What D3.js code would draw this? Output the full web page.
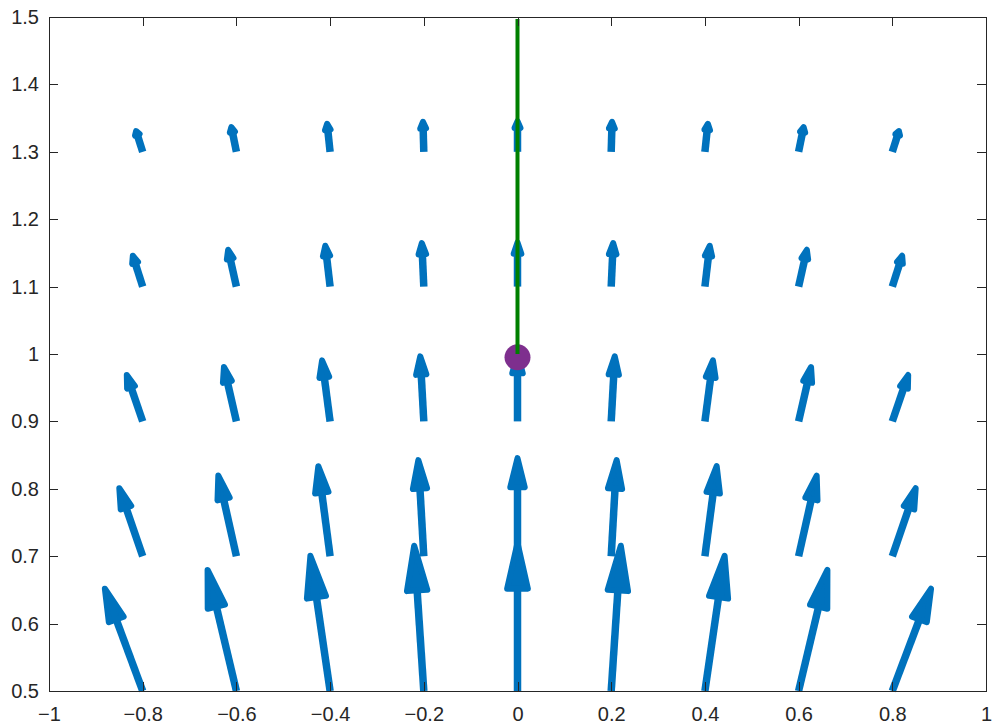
<!DOCTYPE html>
<html>
<head>
<meta charset="utf-8">
<script src="https://cdn.jsdelivr.net/npm/d3@7"></script>
<style>
  body { margin: 0; background: #fff; }
  svg { display: block; }
</style>
</head>
<body>
<script>
// grid of arrow bases
const gridX = [-0.8, -0.6, -0.4, -0.2, 0, 0.2, 0.4, 0.6, 0.8]
const gridY = [0.5, 0.7, 0.9, 1.1, 1.3]

// arrow components, one row per gridY value
const uRows = [
  [-0.083, -0.063, -0.043, -0.021, 0, 0.021, 0.043, 0.063, 0.085],
  [-0.052, -0.040, -0.026, -0.012, 0, 0.012, 0.026, 0.040, 0.052],
  [-0.036, -0.028, -0.018, -0.008, 0, 0.008, 0.018, 0.028, 0.036],
  [-0.023, -0.019, -0.011, -0.0045, 0, 0.0045, 0.011, 0.019, 0.023],
  [-0.016, -0.012, -0.007, -0.002, 0, 0.002, 0.007, 0.012, 0.016]
]
const vRows = [
  [0.156, 0.184, 0.205, 0.220, 0.224, 0.220, 0.205, 0.184, 0.156],
  [0.105, 0.124, 0.138, 0.147, 0.150, 0.147, 0.138, 0.124, 0.105],
  [0.073, 0.085, 0.095, 0.101, 0.104, 0.101, 0.095, 0.085, 0.073],
  [0.050, 0.059, 0.065, 0.069, 0.070, 0.069, 0.065, 0.059, 0.050],
  [0.035, 0.041, 0.046, 0.049, 0.050, 0.049, 0.046, 0.041, 0.035]
]

// green path and ball
const pathX = [0, 0]
const pathY = [1.0, 1.5]
const ballX = 0
const ballY = 0.995

const xTicks = [-1, -0.8, -0.6, -0.4, -0.2, 0, 0.2, 0.4, 0.6, 0.8, 1]
const yTicks = [0.5, 0.6, 0.7, 0.8, 0.9, 1, 1.1, 1.2, 1.3, 1.4, 1.5]

const width = 992, height = 726
const x = d3.scaleLinear().domain([-1, 1]).range([49, 986])
const y = d3.scaleLinear().domain([0.5, 1.5]).range([691, 17])

const svg = d3.select('body').append('svg')
  .attr('width', width)
  .attr('height', height)

const arrows = []
gridY.forEach(function (gy, r) {
  gridX.forEach(function (gx, c) {
    arrows.push({ x: gx, y: gy, u: uRows[r][c], v: vRows[r][c] })
  })
})

const blue = '#0072BD'
const arrowG = svg.append('g')

arrows.forEach(function (d) {
  const x0 = x(d.x), y0 = y(d.y)
  const x1 = x(d.x + d.u), y1 = y(d.y + d.v)
  const L = Math.hypot(x1 - x0, y1 - y0)
  const ux = (x1 - x0) / L, uy = (y1 - y0) / L
  const sw = 6
  const tipLen = L - sw / 2
  const headLen = 0.33 * L + 1.8 - sw
  const half = 0.063 * L + 3.85 - sw / 2
  const tx = x0 + ux * tipLen, ty = y0 + uy * tipLen
  const bLen = tipLen - headLen
  const bx = x0 + ux * bLen, by = y0 + uy * bLen

  arrowG.append('line')
    .attr('x1', x0).attr('y1', y0)
    .attr('x2', bx).attr('y2', by)
    .attr('stroke', blue)
    .attr('stroke-width', 7.5)
    .attr('stroke-linecap', 'butt')

  arrowG.append('path')
    .attr('d', 'M' + tx + ',' + ty +
      'L' + (bx - uy * half) + ',' + (by + ux * half) +
      'L' + (bx + uy * half) + ',' + (by - ux * half) + 'Z')
    .attr('fill', blue)
    .attr('stroke', blue)
    .attr('stroke-width', sw)
    .attr('stroke-linejoin', 'round')
})

// ball then path on top
svg.append('circle')
  .attr('cx', x(ballX))
  .attr('cy', y(ballY))
  .attr('r', 13)
  .attr('fill', '#7E2F8E')

svg.append('line')
  .attr('x1', x(pathX[0])).attr('y1', y(pathY[0]))
  .attr('x2', x(pathX[1])).attr('y2', y(pathY[1]) + 2)
  .attr('stroke', '#008000')
  .attr('stroke-width', 4)

// axes box with inward ticks
function styleAxis(g) {
  g.attr('font-size', 20)
    .attr('font-family', '"Liberation Sans", Arial, Helvetica, sans-serif')
    .attr('shape-rendering', 'crispEdges')
  g.selectAll('.domain').attr('stroke', '#262626').attr('stroke-width', 1)
  g.selectAll('.tick line').attr('stroke', '#262626').attr('stroke-width', 1)
  g.selectAll('.tick text').attr('fill', '#262626')
}

svg.append('g')
  .attr('transform', 'translate(0,691)')
  .call(d3.axisBottom(x).tickValues(xTicks).tickFormat(d3.format('')).tickSizeInner(-9).tickSizeOuter(0).tickPadding(16))
  .call(styleAxis)

svg.append('g')
  .attr('transform', 'translate(0,17)')
  .call(d3.axisTop(x).tickValues(xTicks).tickFormat('').tickSizeInner(-9).tickSizeOuter(0))
  .call(styleAxis)

svg.append('g')
  .attr('transform', 'translate(49,0)')
  .call(d3.axisLeft(y).tickValues(yTicks).tickFormat(d3.format('')).tickSizeInner(-9).tickSizeOuter(0).tickPadding(10))
  .call(styleAxis)

svg.append('g')
  .attr('transform', 'translate(986,0)')
  .call(d3.axisRight(y).tickValues(yTicks).tickFormat('').tickSizeInner(-9).tickSizeOuter(0))
  .call(styleAxis)
</script>
</body>
</html>
